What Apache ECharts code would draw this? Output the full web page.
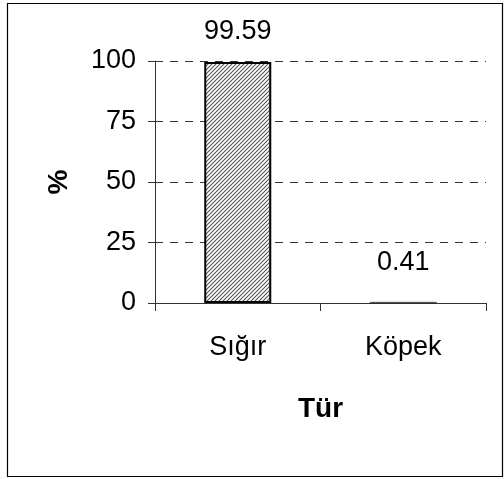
<!DOCTYPE html>
<html>
<head>
<meta charset="utf-8">
<script src="https://cdn.jsdelivr.net/npm/echarts@6/dist/echarts.min.js"></script>
<style>
  html, body { margin: 0; padding: 0; background: #fff; }
  #chart { width: 504px; height: 479px; }
</style>
</head>
<body>
<div id="chart"></div>
<script>
// Species share (%)
const categories = ['Sığır', 'Köpek'];
const shares = [99.59, 0.41];
const yTicks = [0, 25, 50, 75, 100];

// diagonal hatch fill for the bars
function hatch() {
  const c = document.createElement('canvas');
  c.width = 4; c.height = 4;
  const g = c.getContext('2d');
  g.fillStyle = '#ffffff';
  g.fillRect(0, 0, 4, 4);
  g.strokeStyle = '#555555';
  g.lineWidth = 1.1;
  g.beginPath();
  g.moveTo(-1, 5); g.lineTo(5, -1);
  g.moveTo(-1, 1); g.lineTo(1, -1);
  g.moveTo(3, 5); g.lineTo(5, 3);
  g.stroke();
  return c;
}

const labelDistances = [17, 26];
const font = '"Liberation Sans", Arial, sans-serif';
const axisColor = '#333';

const chart = echarts.init(document.getElementById('chart'), null, { renderer: 'canvas' });
chart.setOption({
  animation: false,
  backgroundColor: '#fff',
  graphic: [{
    type: 'rect',
    shape: { x: 7.5, y: 3.5, width: 495, height: 473 },
    style: { fill: 'none', stroke: '#000', lineWidth: 1.2 },
    silent: true
  }],
  grid: { left: 155, right: 18, top: 61, bottom: 176, containLabel: false },
  xAxis: {
    type: 'category',
    data: categories,
    name: 'Tür',
    nameLocation: 'middle',
    nameGap: 92,
    nameTextStyle: { fontFamily: font, fontSize: 28, fontWeight: 'bold', color: '#000' },
    axisLine: { lineStyle: { color: axisColor, width: 1 } },
    axisTick: { show: true, length: 8, lineStyle: { color: axisColor } },
    axisLabel: { fontFamily: font, fontSize: 27, color: '#000', margin: 31 },
    splitLine: { show: false }
  },
  yAxis: {
    type: 'value',
    min: yTicks[0],
    max: yTicks[yTicks.length - 1],
    interval: 25,
    name: '%',
    nameLocation: 'middle',
    nameGap: 82,
    nameRotate: 90,
    nameTextStyle: { fontFamily: font, fontSize: 28, fontWeight: 'bold', color: '#000' },
    axisLine: { show: true, lineStyle: { color: axisColor, width: 1 } },
    axisTick: { show: true, length: 7, lineStyle: { color: axisColor } },
    axisLabel: { fontFamily: font, fontSize: 27, color: '#000', margin: 19 },
    splitLine: { show: true, lineStyle: { color: '#333', type: [8, 7], width: 1 } }
  },
  series: [{
    type: 'bar',
    barWidth: 67,
    data: shares.map((v, i) => ({
      value: v,
      label: { distance: labelDistances[i] },
      itemStyle: i === 1 ? { borderWidth: 0.5 } : undefined
    })),
    itemStyle: {
      color: { image: hatch(), repeat: 'repeat' },
      borderColor: '#000',
      borderWidth: 2
    },
    label: {
      show: true,
      position: 'top',
      fontFamily: font,
      fontSize: 27,
      color: '#000',
      formatter: p => p.value.toFixed(2)
    }
  }]
});
</script>
</body>
</html>
